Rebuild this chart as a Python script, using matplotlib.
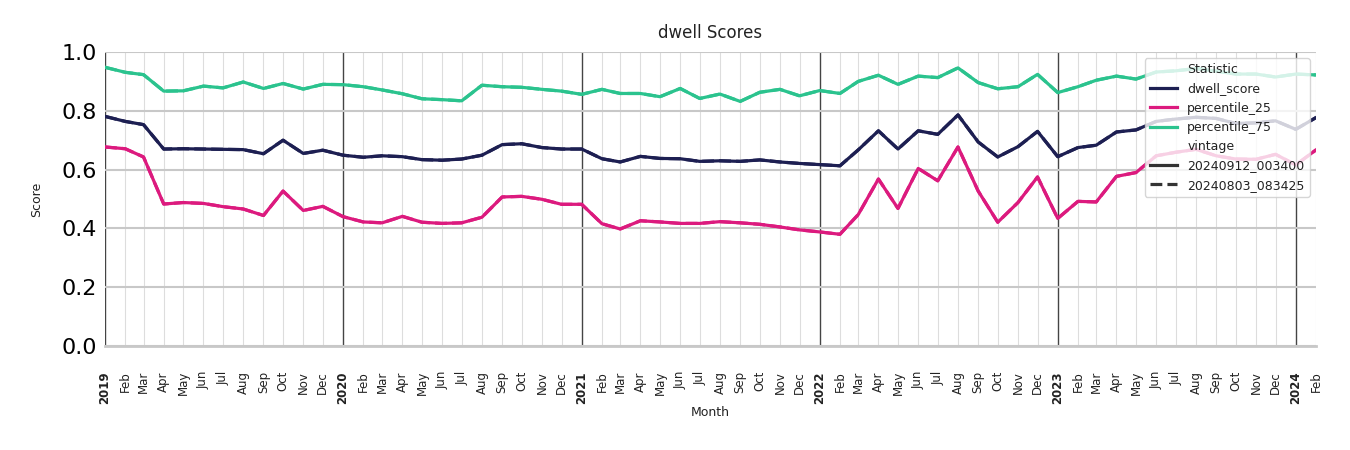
import matplotlib
matplotlib.use("Agg")
import matplotlib.pyplot as plt
from matplotlib.lines import Line2D
import pandas as pd

months = pd.date_range("2019-01-01", "2024-02-01", freq="MS")

dwell_score = [
    0.781, 0.764, 0.753, 0.670, 0.671, 0.670, 0.669, 0.668, 0.654, 0.700, 0.655, 0.666,
    0.649, 0.642, 0.647, 0.644, 0.634, 0.632, 0.636, 0.649, 0.685, 0.688, 0.675, 0.670,
    0.670, 0.637, 0.626, 0.645, 0.638, 0.637, 0.628, 0.630, 0.628, 0.633, 0.626, 0.621,
    0.617, 0.613, 0.667, 0.732, 0.670, 0.732, 0.720, 0.786, 0.694, 0.643, 0.678, 0.730,
    0.644, 0.675, 0.683, 0.728, 0.735, 0.764, 0.772, 0.778, 0.774, 0.757, 0.759, 0.766,
    0.737, 0.777,
]
percentile_25 = [
    0.677, 0.671, 0.643, 0.483, 0.488, 0.485, 0.474, 0.466, 0.444, 0.527, 0.461, 0.475,
    0.440, 0.422, 0.419, 0.441, 0.421, 0.417, 0.419, 0.438, 0.507, 0.509, 0.499, 0.482,
    0.482, 0.416, 0.398, 0.426, 0.422, 0.417, 0.417, 0.423, 0.419, 0.414, 0.405, 0.395,
    0.388, 0.380, 0.447, 0.568, 0.468, 0.604, 0.562, 0.677, 0.527, 0.421, 0.488, 0.575,
    0.434, 0.492, 0.490, 0.577, 0.590, 0.647, 0.659, 0.669, 0.647, 0.636, 0.635, 0.652,
    0.616, 0.667,
]
percentile_75 = [
    0.948, 0.931, 0.923, 0.867, 0.868, 0.884, 0.878, 0.898, 0.876, 0.893, 0.874, 0.890,
    0.889, 0.882, 0.871, 0.858, 0.841, 0.838, 0.834, 0.887, 0.882, 0.880, 0.873, 0.867,
    0.856, 0.873, 0.859, 0.859, 0.848, 0.876, 0.842, 0.857, 0.832, 0.863, 0.873, 0.851,
    0.869, 0.859, 0.900, 0.921, 0.890, 0.918, 0.913, 0.946, 0.896, 0.875, 0.882, 0.924,
    0.862, 0.882, 0.904, 0.918, 0.908, 0.932, 0.936, 0.944, 0.935, 0.925, 0.925, 0.915,
    0.925, 0.922,
]

series = {
    "dwell_score": (dwell_score, "#1d1f52"),
    "percentile_25": (percentile_25, "#dc1a7e"),
    "percentile_75": (percentile_75, "#2bc38e"),
}
vintages = ["20240912_003400", "20240803_083425"]

fig = plt.figure(figsize=(13.5, 4.5), dpi=100)
ax = fig.add_axes([0.0778, 0.2311, 0.8970, 0.6533])

# older vintage overlaps the newest one exactly, so draw it underneath
for name, (vals, color) in series.items():
    ax.plot(months, vals, color=color, lw=2.3, ls="--", zorder=2)
for name, (vals, color) in series.items():
    ax.plot(months, vals, color=color, lw=2.3, zorder=3)

ax.set_xlim(months[0], months[-1])
ax.set_ylim(0, 1.0)
ax.set_yticks([0, 0.2, 0.4, 0.6, 0.8, 1.0])
ax.tick_params(axis="y", labelsize=16, length=0, pad=6)
ax.grid(axis="y", color="#c8c8c8", lw=1.5, zorder=0)

for m in months:
    if m.month == 1:
        ax.axvline(m, color="#444444", lw=1.0, zorder=1)
    else:
        ax.axvline(m, color="#dddddd", lw=0.8, zorder=0)

labels = [str(m.year) if m.month == 1 else m.strftime("%b") for m in months]
ax.set_xticks(months)
ax.set_xticklabels(labels, rotation=90, fontsize=8.5, color="#222222")
ax.tick_params(axis="x", length=0, pad=18)
for lbl, m in zip(ax.get_xticklabels(), months):
    if m.month == 1:
        lbl.set_fontweight("bold")

for s in ["top", "right", "left"]:
    ax.spines[s].set_visible(False)
ax.spines["bottom"].set_color("#c8c8c8")
ax.spines["bottom"].set_linewidth(2)

ax.set_title("dwell Scores", fontsize=12, color="#222222", pad=10)
ax.set_ylabel("Score", fontsize=9, color="#222222", labelpad=13)
ax.set_xlabel("Month", fontsize=9, color="#222222", labelpad=2)

blank = Line2D([], [], color="none")
handles = [blank]
names = ["Statistic"]
for name, (vals, color) in series.items():
    handles.append(Line2D([], [], color=color, lw=2.3))
    names.append(name)
handles.append(blank)
names.append("vintage")
handles.append(Line2D([], [], color="#333333", lw=2.3))
handles.append(Line2D([], [], color="#333333", lw=2.3, ls="--"))
names += vintages
leg = ax.legend(handles, names, loc="upper right", fontsize=9, framealpha=0.8,
                edgecolor="#cccccc", bbox_to_anchor=(1.0, 1.0), borderpad=0.4,
                handlelength=2.2, labelspacing=0.5)
for t in leg.get_texts():
    t.set_color("#222222")

fig.savefig("out.png", dpi=100)
